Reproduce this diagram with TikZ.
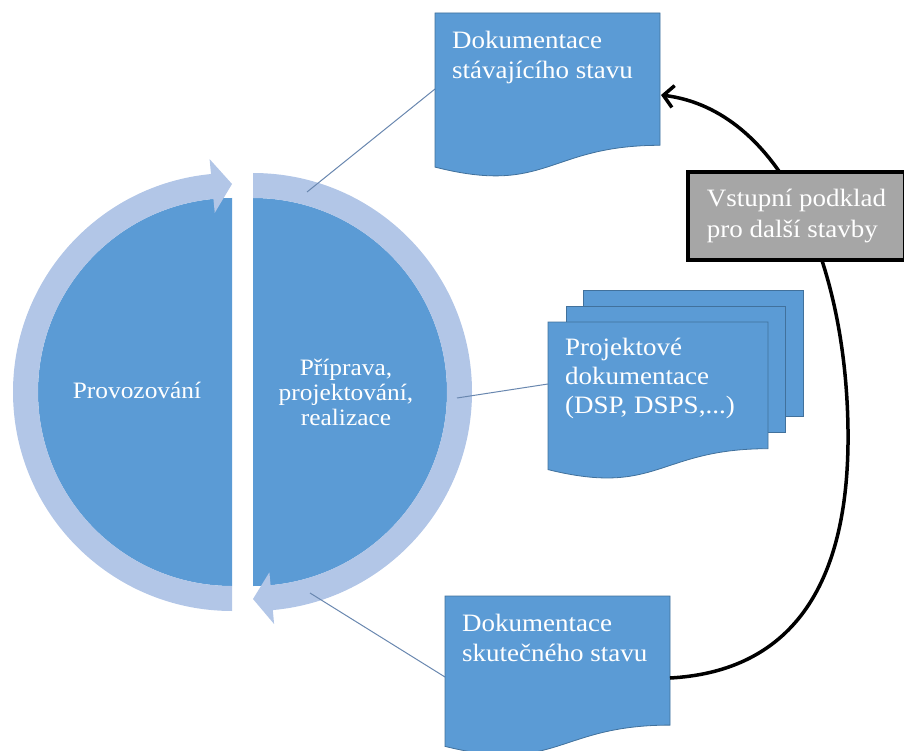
\documentclass[tikz,border=0pt]{standalone}
\usepackage{fontspec}
\setmainfont{Liberation Serif}[FakeStretch=1.08]
\usetikzlibrary{arrows.meta}
\definecolor{kruh}{RGB}{91,155,213}
\definecolor{prstenec}{RGB}{178,198,231}
\definecolor{okraj}{RGB}{65,113,156}
\definecolor{spoj}{RGB}{105,135,175}
\definecolor{seda}{RGB}{166,166,166}
\tikzset{
	pulka/.style={fill=kruh},
	sipka/.style={fill=prstenec},
	dokument/.style={fill=kruh,draw=okraj,line width=0.8pt},
	spojnice/.style={draw=spoj,line width=1pt},
	popis/.style={text=white,inner sep=0pt,align=left,anchor=north west,font=\fontsize{25}{30}\selectfont},
	kruhtext/.style={text=white,inner sep=0pt,align=center,font=\fontsize{23.5}{25}\selectfont},
	podkladbox/.style={fill=seda,draw=black,line width=4pt,text=white,align=left,inner sep=0pt,font=\fontsize{25}{31}\selectfont},
	navrat/.style={draw=black,line width=3.5pt,-{Straight Barb[length=10pt,width=22pt]}}
}
\begin{document}
\begin{tikzpicture}[x=1pt,y=-1pt]
	\useasboundingbox (0,0) rectangle (904,751);

	% leva pulka
	\begin{scope}[shift={(232,392)}]
		\fill[pulka] (270:194) arc[start angle=270,end angle=90,radius=194] -- cycle;
		\fill[sipka] (90:219) arc[start angle=90,end angle=264.5,radius=219] -- (264.5:234) -- (270:208)
			-- (264.5:180) -- (264.5:194) arc[start angle=264.5,end angle=90,radius=194] -- cycle;
	\end{scope}
	% prava pulka
	\begin{scope}[shift={(253,392)}]
		\fill[pulka] (-90:194) arc[start angle=-90,end angle=90,radius=194] -- cycle;
		\fill[sipka] (-90:219) arc[start angle=-90,end angle=84.8,radius=219] -- (84.8:233) -- (90:207)
			-- (84.8:181) -- (84.8:194) arc[start angle=84.8,end angle=-90,radius=194] -- cycle;
	\end{scope}

	\node[kruhtext] (provoz) at (137,390) {Provozování};
	\node[kruhtext] (priprava) at (346,392) {Příprava,\\projektování,\\realizace};

	\coordinate (r1) at (307,192);
	\coordinate (r2) at (457,398);
	\coordinate (r3) at (310,593);
	\coordinate (d1) at (435,89);
	\coordinate (d2) at (548,384);
	\coordinate (d3) at (445,677);
	\draw[spojnice] (r1) -- (d1);
	\draw[spojnice] (r2) -- (d2);
	\draw[spojnice] (r3) -- (d3);

	\filldraw[dokument] (435,13) -- (660,13) -- (660,145.3) .. controls (547.5,145.3) and (547.5,195.7) .. (435,167.1) -- cycle;
	\node[popis] (stavajici) at (452,31) {Dokumentace\\stávajícího stavu};

	\filldraw[dokument] (583,290) rectangle (803,416);
	\filldraw[dokument] (566,306) rectangle (785,432);
	\filldraw[dokument] (548,322) -- (768,322) -- (768,448.7) .. controls (658,448.7) and (658,496.9) .. (548,469.6) -- cycle;
	\node[popis,font=\fontsize{25}{29}\selectfont] (projekt) at (565,338) {Projektové\\dokumentace\\(DSP, DSPS,...)};

	\filldraw[dokument] (445,596) -- (670,596) -- (670,725.1) .. controls (557.5,725.1) and (557.5,774.2) .. (445,746.4) -- cycle;
	\node[popis] (skutecny) at (462,614) {Dokumentace\\skutečného stavu};

	\coordinate (d1r) at (661,95);
	\coordinate (d3r) at (670,678);
	\draw[navrat] (d3r) .. controls (780,672) and (850,600) .. (848,430) .. controls (846,260) and (780,110) .. (d1r);
	\node[podkladbox,minimum width=217pt,minimum height=88pt,anchor=north west] (podklad) at (686,170) {Vstupní podklad\\pro další stavby};
\end{tikzpicture}
\end{document}
